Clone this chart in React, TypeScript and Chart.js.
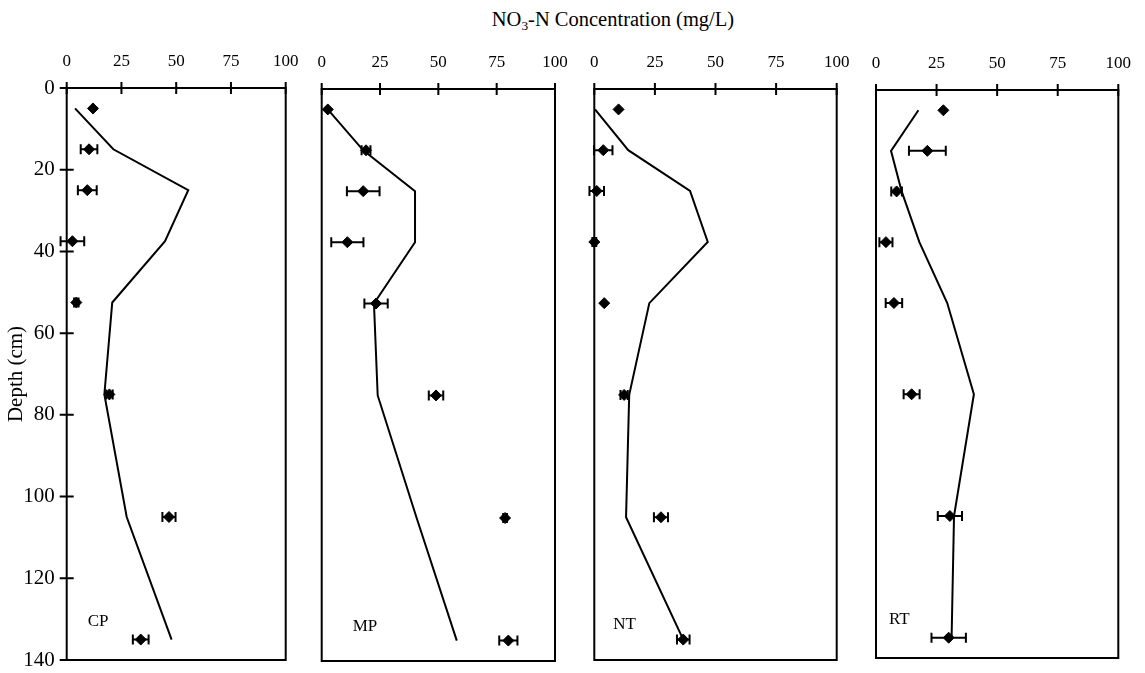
import React, { useEffect, useRef } from "react";
import { Chart, registerables } from "chart.js";

Chart.register(...registerables);

// ---- Data ----
const depths = [5, 15, 25, 37.5, 52.5, 75, 105, 135];
const xTickValues = [0, 25, 50, 75, 100];
const yTickValues = [0, 20, 40, 60, 80, 100, 120, 140];
const panelNames = ["CP", "MP", "NT", "RT"];

const cpMeasured = [12, 10.2, 9.4, 2.6, 4.4, 19.5, 46.7, 33.8];
const cpError = [0, 3.8, 4.3, 5.4, 1, 1.5, 3, 3.6];
const cpSimulated = [3.8, 21.3, 55.5, 44.9, 20.8, 17.2, 27.4, 47.9];

const mpMeasured = [2.6, 19, 17.8, 11, 23.3, 49, 78.6, 80];
const mpError = [0, 1.9, 7, 6.9, 5, 3.1, 0.8, 3.9];
const mpSimulated = [2.6, 17.8, 40, 40, 22.4, 24, 40.7, 57.9];

const ntMeasured = [10, 3.7, 1, 0, 4.1, 12.3, 27.5, 36.7];
const ntError = [0, 3.8, 3, 0.8, 0, 1.5, 2.9, 2.6];
const ntSimulated = [0.3, 14, 39.5, 46.8, 22.7, 14.4, 13.1, 36.7];

const rtMeasured = [27.8, 21.2, 8.5, 4.1, 7.4, 14.7, 30.5, 30];
const rtError = [0, 7.6, 2.2, 2.7, 3.4, 3.3, 5, 7.1];
const rtSimulated = [17.5, 6.2, 10.6, 17.9, 29.4, 40.4, 32.2, 31.2];

const measuredSets = [cpMeasured, mpMeasured, ntMeasured, rtMeasured];
const errorSets = [cpError, mpError, ntError, rtError];
const simulatedSets = [cpSimulated, mpSimulated, ntSimulated, rtSimulated];

// ---- Layout ----
const W = 1145;
const H = 673;
const FONT = "'Liberation Serif', 'Times New Roman', serif";
const frames = [
  { left: 66.7, right: 285.7, top: 88, bottom: 660, labelDx: 21, labelDy: 38 },
  { left: 321.7, right: 555, top: 89, bottom: 661, labelDx: 31, labelDy: 34 },
  { left: 594.3, right: 836.7, top: 89, bottom: 660, labelDx: 19, labelDy: 35 },
  { left: 876, right: 1118.3, top: 90, bottom: 658, labelDx: 13, labelDy: 38 },
];

const framePlugin = {
  id: "frameTicks",
  afterDraw(chart: any, _args: any, opts: any) {
    const { ctx, chartArea } = chart;
    const xs = chart.scales.x;
    const ys = chart.scales.y;
    ctx.save();
    ctx.strokeStyle = "#000";
    ctx.lineWidth = 2;
    ctx.strokeRect(chartArea.left, chartArea.top, chartArea.right - chartArea.left, chartArea.bottom - chartArea.top);
    ctx.beginPath();
    for (const v of xTickValues) {
      const px = xs.getPixelForValue(v);
      ctx.moveTo(px, chartArea.top - 6);
      ctx.lineTo(px, chartArea.top + 6);
    }
    if (opts.yTicks) {
      for (const v of yTickValues) {
        const py = ys.getPixelForValue(v);
        ctx.moveTo(chartArea.left - 7, py);
        ctx.lineTo(chartArea.left + 7, py);
      }
    }
    ctx.stroke();
    if (opts.label) {
      ctx.fillStyle = "#000";
      ctx.font = `17px ${FONT}`;
      ctx.textAlign = "left";
      ctx.textBaseline = "middle";
      ctx.fillText(opts.label, chartArea.left + opts.dx, chartArea.bottom - opts.dy);
    }
    ctx.restore();
  },
};

const errorBarPlugin = {
  id: "errorBars",
  beforeDatasetsDraw(chart: any) {
    const { ctx } = chart;
    const xs = chart.scales.x;
    const ys = chart.scales.y;
    ctx.save();
    ctx.strokeStyle = "#000";
    ctx.lineWidth = 2;
    chart.data.datasets.forEach((ds: any) => {
      if (!ds.xErr) return;
      ds.data.forEach((p: any, i: number) => {
        const e = ds.xErr[i];
        if (!e) return;
        const y = ys.getPixelForValue(p.y);
        const x1 = xs.getPixelForValue(p.x - e);
        const x2 = xs.getPixelForValue(p.x + e);
        ctx.beginPath();
        ctx.moveTo(x1, y);
        ctx.lineTo(x2, y);
        ctx.moveTo(x1, y - 5);
        ctx.lineTo(x1, y + 5);
        ctx.moveTo(x2, y - 5);
        ctx.lineTo(x2, y + 5);
        ctx.stroke();
      });
    });
    ctx.restore();
  },
};

function Panel({ index }: { index: number }) {
  const ref = useRef<HTMLCanvasElement>(null);
  useEffect(() => {
    const f = frames[index];
    const first = index === 0;
    const measured = measuredSets[index];
    const sim = simulatedSets[index];
    const chart = new Chart(ref.current!, {
      type: "scatter",
      data: {
        datasets: [
          {
            label: "Simulated",
            data: depths.map((d, i) => ({ x: sim[i], y: d })),
            showLine: true,
            borderColor: "#000",
            borderWidth: 2,
            pointRadius: 0,
            fill: false,
            clip: false,
          } as any,
          {
            label: "Measured",
            data: depths.map((d, i) => ({ x: measured[i], y: d })),
            showLine: false,
            pointStyle: "rectRot",
            pointRadius: 5.5,
            backgroundColor: "#000",
            borderColor: "#000",
            borderWidth: 1,
            clip: false,
            xErr: errorSets[index],
          } as any,
        ],
      },
      options: {
        animation: false,
        responsive: false,
        devicePixelRatio: 1,
        events: [],
        layout: {
          padding: {
            left: first ? 0 : f.left,
            right: W - f.right,
            top: 0,
            bottom: H - f.bottom,
          },
        },
        plugins: {
          legend: { display: false },
          tooltip: { enabled: false },
          title: { display: false },
          frameTicks: { yTicks: first, label: panelNames[index], dx: f.labelDx, dy: f.labelDy },
        } as any,
        scales: {
          x: {
            type: "linear",
            position: "top",
            min: 0,
            max: 100,
            grid: { display: false, drawTicks: false },
            border: { display: false },
            ticks: {
              stepSize: 25,
              padding: 16,
              color: "#000",
              font: { family: FONT, size: 17 },
              maxRotation: 0,
            },
            afterFit: (s: any) => {
              s.height = f.top;
              s.paddingLeft = 0;
              s.paddingRight = 0;
            },
          },
          y: {
            type: "linear",
            display: first,
            reverse: true,
            min: 0,
            max: 140,
            grid: { display: false, drawTicks: false },
            border: { display: false },
            ticks: {
              stepSize: 20,
              padding: 12,
              color: "#000",
              font: { family: FONT, size: 21 },
            },
            title: {
              display: first,
              text: "Depth (cm)",
              color: "#000",
              font: { family: FONT, size: 21 },
              padding: { top: 4, bottom: 0 },
            },
            afterFit: (s: any) => {
              s.width = first ? f.left : 0;
              s.paddingTop = 0;
              s.paddingBottom = 0;
            },
          },
        },
      } as any,
      plugins: [framePlugin, errorBarPlugin],
    });
    return () => chart.destroy();
  }, [index]);
  return (
    <canvas
      ref={ref}
      width={W}
      height={H}
      style={{ position: "absolute", left: 0, top: 0, width: W, height: H }}
    />
  );
}

export default function App() {
  return (
    <div style={{ position: "absolute", left: 0, top: 0, width: W, height: H, background: "#fff", overflow: "hidden" }}>
      <div
        style={{
          position: "absolute",
          left: 613,
          top: 6,
          transform: "translateX(-50%)",
          whiteSpace: "nowrap",
          fontFamily: FONT,
          fontSize: 20.5,
          color: "#000",
          lineHeight: "26px",
        }}
      >
        NO<sub style={{ fontSize: "0.65em", verticalAlign: "-0.3em", lineHeight: 0 }}>3</sub>-N Concentration (mg/L)
      </div>
      {[0, 1, 2, 3].map((i) => (
        <Panel key={i} index={i} />
      ))}
    </div>
  );
}
